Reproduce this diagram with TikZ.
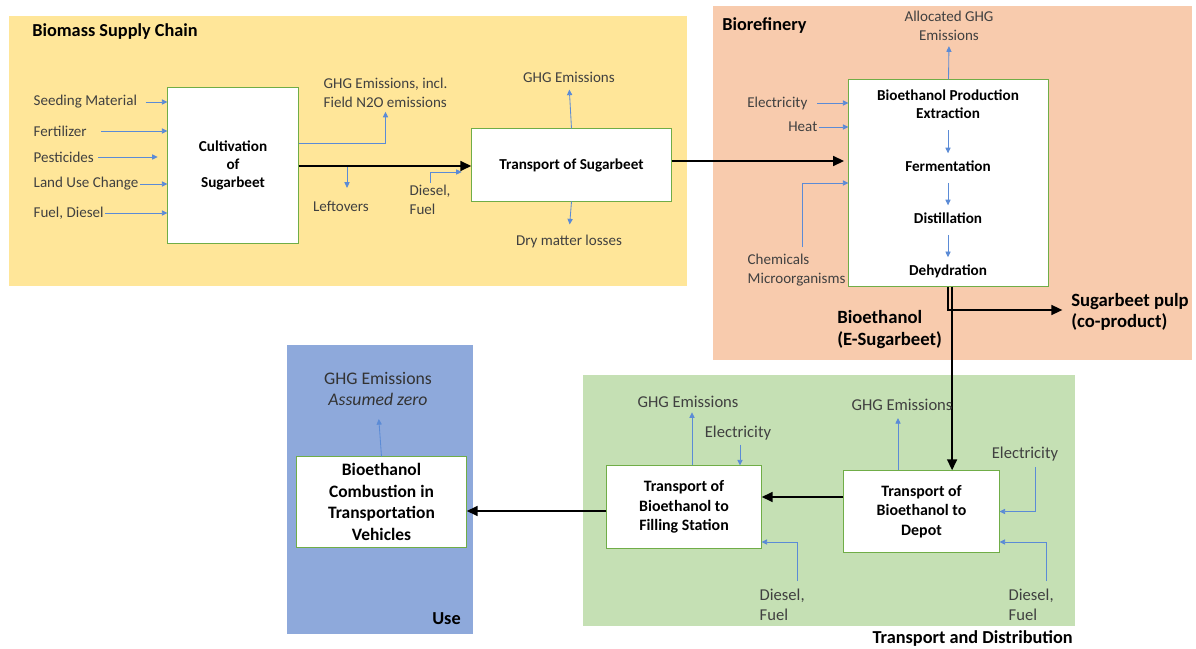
\documentclass[tikz,border=0pt]{standalone}
\usepackage{fontspec}
\setmainfont{Carlito}
\usetikzlibrary{arrows.meta, positioning}
\definecolor{supplybg}{HTML}{FFE699}
\definecolor{refinebg}{HTML}{F8CBAD}
\definecolor{usebg}{HTML}{8EA9DB}
\definecolor{distbg}{HTML}{C5E0B4}
\definecolor{boxline}{HTML}{70AD47}
\definecolor{inflow}{HTML}{5B8BD6}
\definecolor{labelgray}{HTML}{404040}

\begin{document}
\begin{tikzpicture}[
    x=0.025cm, y=-0.025cm,
    box/.style={rectangle, draw=boxline, fill=white, line width=0.7pt, align=center,
                inner sep=0pt, font=\fontsize{10.8}{13}\selectfont\bfseries},
    stage/.style={align=center, inner sep=1pt, font=\fontsize{10.8}{12.5}\selectfont\bfseries},
    lbl/.style={text=labelgray, align=left, inner sep=1pt, font=\fontsize{10.7}{13.5}\selectfont},
    biglbl/.style={lbl, font=\fontsize{11.8}{14.5}\selectfont},
    title/.style={inner sep=0pt, align=left, font=\fontsize{13}{15}\selectfont\bfseries},
    inarr/.style={-{Triangle[length=1.4mm, width=1.3mm]}, draw=inflow, line width=0.6pt},
    flow/.style={-{Triangle[length=2.8mm, width=2.4mm]}, line width=1.9pt}
]
\useasboundingbox (0,0) rectangle (1196,649);

% Stage backgrounds
\fill[supplybg] (9,16) rectangle (687,286);
\fill[refinebg] (713,6) rectangle (1192,360);
\fill[usebg]    (287,345) rectangle (473,634);
\fill[distbg]   (583,375) rectangle (1075,626);

\node[title, anchor=west] (tsupply) at (32,32)   {Biomass Supply Chain};
\node[title, anchor=west] (trefine) at (722,26)  {Biorefinery};
\node[title, anchor=east] (tuse)    at (461,619) {Use};
\node[title, anchor=east] (tdist)   at (1073,639) {Transport and Distribution};

% Process boxes
\node[box, minimum width=3.25cm, minimum height=3.875cm] (cult) at (233,165.5) {Cultivation\\of\\Sugarbeet};
\node[box, minimum width=4.975cm, minimum height=1.8cm] (trans) at (571.5,165) {Transport of Sugarbeet};
\node[box, minimum width=4.975cm, minimum height=5.15cm] (bioref) at (948.5,183) {};
\node[box, minimum width=3.875cm, minimum height=2.025cm,
      font=\fontsize{11.3}{14}\selectfont\bfseries] (depot) at (921.5,511.5) {Transport of\\Bioethanol to\\Depot};
\node[box, minimum width=3.85cm, minimum height=2.05cm,
      font=\fontsize{11.3}{14}\selectfont\bfseries] (filling) at (684,507) {Transport of\\Bioethanol to\\Filling Station};
\node[box, minimum width=4.225cm, minimum height=2.25cm,
      font=\fontsize{12.4}{15.4}\selectfont\bfseries] (usebox) at (381.5,502) {Bioethanol\\Combustion in\\Transportation\\Vehicles};

% Biorefinery steps
\node[stage] (extract) at (948,104.5) {Bioethanol Production\\Extraction};
\node[stage] (ferment) at (948,166)   {Fermentation};
\node[stage] (distil)  at (948,218)   {Distillation};
\node[stage] (dehyd)   at (948,271)   {Dehydration};
\foreach \a/\b in {extract/ferment, ferment/distil, distil/dehyd}
    \draw[inarr, shorten <=7pt, shorten >=4pt] (\a) -- (\b);

% Cultivation inputs
\node[lbl, anchor=west] (seed)  at (32,102) {Seeding Material};
\node[lbl, anchor=west] (fert)  at (32,131) {Fertilizer};
\node[lbl, anchor=west] (pest)  at (32,157) {Pesticides};
\node[lbl, anchor=west] (luc)   at (32,184) {Land Use Change};
\node[lbl, anchor=west] (fuelA) at (32,213) {Fuel, Diesel};
\draw[inarr, shorten <=5pt] (seed.east) -- (seed.east -| cult.west);
\draw[inarr, shorten <=9pt] (fert.east) -- (fert.east -| cult.west);
\draw[inarr, shorten <=2pt, shorten >=7pt] (pest.east) -- (pest.east -| cult.west);
\draw[inarr] (luc.east) -- (luc.east -| cult.west);
\draw[inarr] (fuelA.east) -- (fuelA.east -| cult.west);

% Supply chain outputs
\node[lbl, anchor=west] (ghgA) at (322,92.5) {GHG Emissions, incl.\\Field N2O emissions};
\node[lbl] (leftov) at (341,206) {Leftovers};
\node[lbl, anchor=north west] (dieselA) at (408,183) {Diesel,\\Fuel};
\node[lbl] (ghgB) at (569,77) {GHG Emissions};
\node[lbl] (dry)  at (569,241) {Dry matter losses};
\coordinate (lo) at (347,166);
\draw[inarr, shorten >=2pt] (cult.east |- 0,143) -| (ghgA.south);
\draw[inarr, shorten >=8pt] (lo) -- (lo |- leftov.north);
\draw[inarr, shorten >=7pt] (dieselA.north) |- (trans.west |- 0,172);
\draw[inarr, shorten >=4pt] (trans.north) -- (ghgB.south);
\draw[inarr, shorten >=6pt] (trans.south) -- (dry.north);

% Main flow
\draw[flow] (cult.east |- 0,166) -- (trans.west |- 0,166);
\draw[flow, shorten >=3pt] (trans.east |- 0,161) -- (bioref.west |- 0,161);

% Biorefinery inputs and outputs
\node[lbl, anchor=east] (elecR) at (809,103) {Electricity};
\node[lbl, anchor=east] (heat)  at (819,127) {Heat};
\node[lbl, anchor=west] (chem)  at (746,270.5) {Chemicals\\Microorganisms};
\node[lbl, align=center] (alloc) at (949,25.5) {Allocated GHG\\Emissions};
\draw[inarr, shorten <=6pt] (elecR.east) -- (elecR.east -| bioref.west);
\draw[inarr] (heat.east) -- (heat.east -| bioref.west);
\draw[inarr, shorten <=4pt] ([xshift=0.15cm]chem.north) |- (bioref.west |- 0,183);
\draw[inarr, shorten >=3pt] (bioref.north) -- (alloc.south);

\node[title, anchor=west, font=\fontsize{13.3}{15.5}\selectfont\bfseries] (pulp) at (1071,312) {Sugarbeet pulp\\(co-product)};
\node[title, anchor=west, font=\fontsize{13.3}{15}\selectfont\bfseries] (ethout) at (837,329.5) {Bioethanol\\(E-Sugarbeet)};
\coordinate (split) at ([xshift=0.09cm]bioref.south);
\draw[flow, shorten >=6pt] ([xshift=-0.01cm]bioref.south) |- (pulp.west |- 0,310);
\draw[flow] (split) -- (split |- depot.north);

% Transport and distribution
\node[biglbl] (ghgD)  at (902,405)  {GHG Emissions};
\node[biglbl] (elecD) at (1025,454) {Electricity};
\node[biglbl, anchor=west] (diesD) at (1007,604.5) {Diesel,\\Fuel};
\node[biglbl] (ghgF)  at (688,402)  {GHG Emissions};
\node[biglbl] (elecF) at (738,433)  {Electricity};
\node[biglbl, anchor=west] (diesF) at (758,604.5) {Diesel,\\Fuel};
\draw[inarr, shorten >=4pt] (depot.north -| 898,0) -- (ghgD.south -| 898,0);
\draw[inarr, shorten <=3pt] ([xshift=0.25cm]elecD.south) |- (depot.east);
\draw[inarr, shorten <=4pt] ([xshift=0.375cm]diesD.north) |- (depot.east |- 0,542);
\draw[inarr, shorten >=2pt] (filling.north -| 692,0) -- (ghgF.south -| 692,0);
\draw[inarr, shorten <=2pt] (elecF.south -| 740,0) -- (filling.north -| 740,0);
\draw[inarr, shorten <=4pt] ([xshift=0.375cm]diesF.north) |- (filling.east |- 0,542);
\draw[flow] (depot.west |- 0,497) -- (filling.east |- 0,497);
\draw[flow] (filling.west |- 0,511) -- (usebox.east |- 0,511);

% Use phase
\node[lbl, align=center, text=black!80, font=\fontsize{12.6}{15.6}\selectfont] (ghgU) at (378,389) {GHG Emissions\\\textit{Assumed zero}};
\draw[inarr, shorten >=8pt] (usebox.north) -- (ghgU.south);
\end{tikzpicture}
\end{document}
